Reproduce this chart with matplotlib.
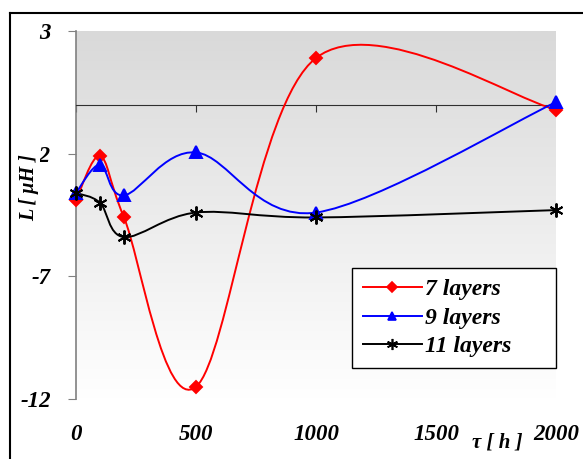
import numpy as np
import matplotlib.pyplot as plt
from matplotlib.path import Path
from matplotlib.patches import PathPatch
from matplotlib.lines import Line2D
from matplotlib.colors import LinearSegmentedColormap

# values
hours = [0, 100, 200, 500, 1000, 2000]
l_7 = [-3.9, -2.1, -4.6, -11.5, 1.9, -0.2]
l_9 = [-3.6, -2.45, -3.7, -1.95, -4.4, 0.1]
l_11 = [-3.6, -4.0, -5.4, -4.4, -4.6, -4.3]
series_labels = ['7 layers', '9 layers', '11 layers']
yticks = [3, -2, -7, -12]
xticks = [0, 500, 1000, 1500, 2000]

plt.rcParams['font.family'] = ['Liberation Serif', 'DejaVu Serif']
plt.rcParams['font.weight'] = 'bold'
plt.rcParams['font.style'] = 'italic'


def smooth_path(x, y):
    """Excel like smoothed line: a cubic bezier through every point"""
    pts = np.column_stack([x, y]).astype(float)
    n = len(pts)
    verts = [pts[0]]
    codes = [Path.MOVETO]
    for i in range(n - 1):
        p_prev = pts[max(i - 1, 0)]
        p0 = pts[i]
        p1 = pts[i + 1]
        p_next = pts[min(i + 2, n - 1)]
        verts += [p0 + (p1 - p_prev) / 6, p1 - (p_next - p0) / 6, p1]
        codes += [Path.CURVE4] * 3
    return Path(verts, codes)


W, H = 583, 459
fig = plt.figure(figsize=(W / 100, H / 100), dpi=100)
ax = fig.add_axes([76 / W, 1 - 399 / H, 480 / W, 368 / H])

# grey gradient background
cmap = LinearSegmentedColormap.from_list('bg', ['#d9d9d9', '#ffffff'])
ax.imshow(np.linspace(0, 1, 256).reshape(-1, 1), extent=[0, 2000, -12, 3],
          aspect='auto', cmap=cmap, origin='upper', zorder=0)

styles = [
    dict(color='#ff0000', marker='D', ms=6),
    dict(color='#0000ff', marker='^', ms=8),
    dict(color='#000000', marker=(6, 2, 0), ms=10),
]
handles = []
for vals, st, lab in zip([l_7, l_9, l_11], styles, series_labels):
    ax.add_patch(PathPatch(smooth_path(hours, vals), fill=False,
                           edgecolor=st['color'], lw=1.4, zorder=3))
    ax.plot(hours, vals, linestyle='none', marker=st['marker'], ms=st['ms'],
            color=st['color'], mec=st['color'], mew=1.4, zorder=4, clip_on=False)
    handles.append(Line2D([], [], color=st['color'], lw=1.4, marker=st['marker'],
                          ms=st['ms'] * 0.8, mew=1.2, mec=st['color']))

ax.set_xlim(0, 2000)
ax.set_ylim(-12, 3)

# x axis line crosses at zero, labels stay at the bottom
ax.spines['bottom'].set_position(('data', 0))
ax.spines['bottom'].set_color('#303030')
ax.spines['top'].set_visible(False)
ax.spines['right'].set_visible(False)
ax.spines['left'].set_color('#808080')
ax.spines['left'].set_linewidth(1.2)
ax.set_xticks(xticks)
ax.tick_params(axis='x', direction='out', length=5, color='#303030',
               labelbottom=False)
ax.set_yticks(yticks)
ax.set_yticklabels([str(v) for v in yticks])
ax.tick_params(axis='y', direction='out', length=6, color='#808080',
               labelsize=16.5, pad=12)

sec = ax.secondary_xaxis('bottom')
sec.set_xticks(xticks)
sec.spines['bottom'].set_visible(False)
sec.tick_params(length=0, labelsize=16.5, pad=18)

fig.text(497 / W, 1 - 443 / H, 'τ [ h ]', ha='center', va='center', fontsize=15)
fig.text(29 / W, 1 - 188 / H, 'L [ μH ]', ha='center', va='center',
         rotation=90, fontsize=14.5,
         bbox=dict(facecolor='white', edgecolor='none', pad=0.5))

leg = ax.legend(handles, series_labels, loc='upper left',
                bbox_to_anchor=(352 / W, 1 - 366 / H, 204 / W, 98 / H),
                bbox_transform=fig.transFigure, mode='expand', fontsize=17,
                handlelength=2.5, handletextpad=0.15, labelspacing=0.3,
                borderpad=0.45, borderaxespad=0, fancybox=False, framealpha=1)
leg.get_frame().set_edgecolor('black')
leg.get_frame().set_linewidth(1.0)

# outer chart border (top and left are visible)
fig.add_artist(Line2D([10 / W, 1], [1 - 12.5 / H] * 2, color='black', lw=1.5,
                      transform=fig.transFigure))
fig.add_artist(Line2D([10 / W] * 2, [0, 1 - 12.5 / H], color='black', lw=1.5,
                      transform=fig.transFigure))

fig.savefig('out.png', dpi=100)
